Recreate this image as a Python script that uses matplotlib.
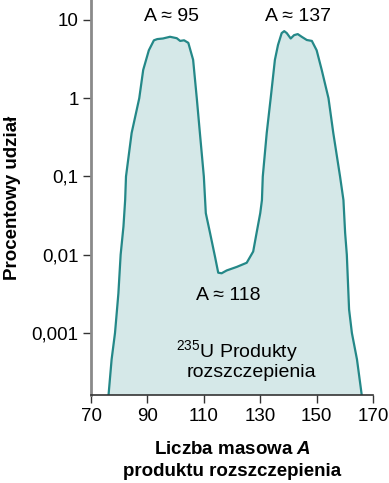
import numpy as np
import matplotlib.pyplot as plt

plt.rcParams['font.family'] = ['Liberation Sans', 'DejaVu Sans']
plt.rcParams['mathtext.fontset'] = 'custom'
plt.rcParams['mathtext.rm'] = 'Liberation Sans'
plt.rcParams['mathtext.bfit'] = 'Liberation Sans:italic:bold'

# mass number A and yield (%)
mass = [76.2, 77.3, 78.5, 79.7, 80.5, 81.5, 82.1, 82.4, 84.4, 87.1, 88.5, 90.5,
        92.3, 93.5, 95.5, 98.0, 100.4, 101.6, 103.0, 104.5, 106.2, 107.5, 108.6,
        110.0, 110.7, 112.2, 114.0, 115.1, 116.3, 118.1, 121.7, 125.2, 127.5,
        128.7, 130.0, 130.6, 130.9, 132.3, 133.7, 135.2, 136.3, 137.6, 138.5,
        139.4, 140.8, 142.0, 143.3, 144.7, 146.5, 148.3, 150.0, 151.8, 154.2,
        155.9, 158.3, 159.5, 160.1, 160.7, 161.5, 162.5, 164.3, 166.0]
yield_pct = [1.6e-4, 4.6e-4, 1e-3, 3.2e-3, 0.01, 0.023, 0.05, 0.1, 0.36, 1.0,
             2.3, 4.1, 5.5, 5.7, 5.8, 6.1, 5.85, 5.4, 5.5, 5.1, 3.1, 1.0, 0.36,
             0.1, 0.034, 0.019, 0.0093, 0.0059, 0.0058, 0.0063, 0.007, 0.0079,
             0.011, 0.019, 0.034, 0.05, 0.1, 0.36, 1.0, 3.1, 4.8, 6.8, 7.2, 6.8,
             5.8, 6.4, 6.6, 6.1, 5.55, 5.4, 4.1, 2.3, 1.0, 0.36, 0.1, 0.05,
             0.019, 0.01, 0.002, 0.001, 4.6e-4, 1.6e-4]

yticks = [10, 1, 0.1, 0.01, 0.001]
ytick_labels = ["10", "1", "0,1", "0,01", "0,001"]
xticks = [70, 90, 110, 130, 150, 170]

line_color = "#248888"
fill_color = "#d5e8e8"

fig = plt.figure(figsize=(3.89, 4.83), dpi=100)
ax = fig.add_axes([0.234, 0.182, 0.725, 0.818])

ax.fill_between(mass, yield_pct, 1e-6, color=fill_color, lw=0)
ax.plot(mass, yield_pct, color=line_color, lw=1.6, solid_joinstyle='round')

ax.set_yscale('log')
ax.set_ylim(1.61e-4, 18)
ax.set_xlim(70, 170)
ax.set_yticks(yticks)
ax.set_yticklabels(ytick_labels)
ax.yaxis.set_minor_locator(plt.NullLocator())
ax.set_xticks(xticks)
ax.tick_params(labelsize=13.5, length=6, width=1, color="#333333", pad=3)

for s in ['top', 'right']:
    ax.spines[s].set_visible(False)
ax.spines['left'].set_color("#8a8a8a")
ax.spines['left'].set_linewidth(2)
ax.spines['bottom'].set_color("#333333")
ax.spines['bottom'].set_linewidth(1.2)

ax.set_xlabel("Liczba masowa $\\mathbfit{A}$\nproduktu rozszczepienia",
              fontsize=13.5, fontweight='bold', labelpad=12, linespacing=1.35)
ax.set_ylabel("Procentowy udział", fontsize=13.5, fontweight='bold')
ax.yaxis.set_label_coords(-0.25, 0.5)

tr = ax.get_xaxis_transform()
ax.text(98.7, 0.957, "A ≈ 95", transform=tr, ha='center', va='center', fontsize=14)
ax.text(143.4, 0.957, "A ≈ 137", transform=tr, ha='center', va='center', fontsize=14)
ax.text(118.5, 0.251, "A ≈ 118", transform=tr, ha='center', va='center', fontsize=14)
ax.text(121.7, 0.109, "$^{235}$U Produkty", transform=tr, ha='center', va='center', fontsize=14)
ax.text(127, 0.056, "rozszczepienia", transform=tr, ha='center', va='center', fontsize=14)

plt.savefig("out.png", dpi=100)
